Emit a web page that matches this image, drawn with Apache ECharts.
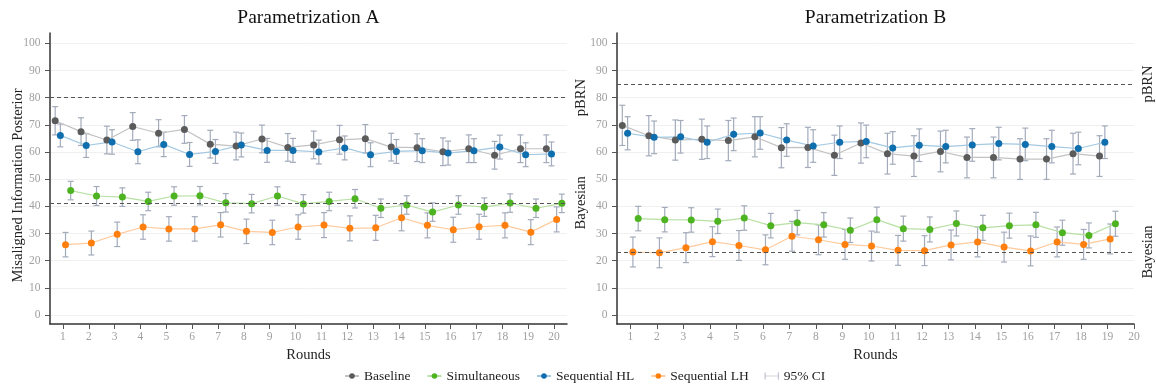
<!DOCTYPE html>
<html><head><meta charset="utf-8">
<script src="https://cdn.jsdelivr.net/npm/echarts@6/dist/echarts.min.js"></script>
<style>html,body{margin:0;padding:0;background:#fff}#c{width:1156px;height:390px}</style>
</head><body><div id="c"></div>
<script>
// ---------- data ----------
const roundsA = [1,2,3,4,5,6,7,8,9,10,11,12,13,14,15,16,17,18,19,20];
const roundsB = [1,2,3,4,5,6,7,8,9,10,11,12,13,14,15,16,17,18,19];
const xTickValues = [1,2,3,4,5,6,7,8,9,10,11,12,13,14,15,16,17,18,19,20];
const yTickValues = [0,10,20,30,40,50,60,70,80,90,100];
const panelTitles = ['Parametrization A', 'Parametrization B'];
const yAxisTitle = 'Misaligned Information Posterior';
const seriesNames = ['Baseline', 'Simultaneous', 'Sequential HL', 'Sequential LH'];
const ciName = '95% CI';

const A_baseline     = [71.5,67.5,64.4,69.4,66.9,68.3,62.9,62.2,64.8,61.7,62.6,64.5,64.9,61.8,61.6,60.1,61.2,58.8,61.2,61.2];
const A_simultaneous = [45.8,43.8,43.4,41.8,43.8,43.9,41.3,41.0,43.8,40.9,41.8,42.8,39.3,40.5,37.9,40.5,39.7,41.2,39.3,41.1];
const A_seqHL        = [66.1,62.4,63.7,60.1,62.8,59.1,60.2,62.6,60.6,60.6,60.0,61.5,59.0,60.2,60.5,59.6,60.5,61.8,59.0,59.3];
const A_seqLH        = [25.9,26.5,29.7,32.4,31.7,31.7,33.2,30.8,30.4,32.4,33.1,31.9,32.1,35.8,33.0,31.4,32.5,33.0,30.5,35.2];

const A_baselineCI     = [5.2,5.1,5.1,5.1,5.0,5.1,5.1,5.1,5.1,5.1,5.1,5.3,5.2,5.1,5.1,5.1,5.1,5.1,5.1,5.1];
const A_simultaneousCI = [3.4,3.5,3.4,3.4,3.4,3.4,3.4,3.4,3.4,3.4,3.4,3.4,3.4,3.4,3.4,3.4,3.4,3.4,3.4,3.4];
const A_seqHLCI        = [4.2,4.4,4.5,4.4,4.5,4.4,4.4,4.4,4.4,4.4,4.4,4.4,4.4,4.4,4.4,4.4,4.4,4.4,4.4,4.4];
const A_seqLHCI        = [4.5,4.4,4.5,4.5,4.5,4.5,4.5,4.5,4.5,4.5,4.6,4.6,4.6,4.8,4.6,4.6,4.6,4.6,4.6,4.6];

const B_baseline     = [69.8,66.0,64.4,64.7,64.2,65.6,61.6,61.7,58.8,63.3,59.4,58.5,60.2,58.0,58.0,57.4,57.4,59.4,58.5];
const B_simultaneous = [35.5,35.1,35.0,34.5,35.7,32.9,34.0,33.2,31.2,35.1,31.8,31.5,33.7,32.1,32.9,33.2,30.3,29.3,33.6];
const B_seqHL        = [66.9,65.4,65.6,63.6,66.5,67.0,64.4,62.2,63.6,63.9,61.5,62.5,62.0,62.6,63.1,62.8,62.0,61.3,63.6];
const B_seqLH        = [23.2,22.9,24.8,27.0,25.6,24.0,29.0,27.7,26.0,25.4,23.8,23.7,25.8,26.9,25.0,23.6,26.9,26.0,28.0];

const B_baselineCI     = [7.4,7.4,7.4,7.4,7.4,7.4,7.4,7.4,7.4,7.4,7.5,7.5,7.5,7.5,7.5,7.5,7.5,7.5,7.5];
const B_simultaneousCI = [4.5,4.5,4.5,4.5,4.5,4.5,4.5,4.5,4.5,4.6,4.6,4.6,4.6,4.6,4.6,4.6,4.6,4.6,4.6];
const B_seqHLCI        = [6.1,6.0,6.0,6.0,6.0,6.0,6.0,6.0,6.0,6.0,6.0,6.0,6.0,6.0,6.0,6.0,6.0,6.0,6.0];
const B_seqLHCI        = [5.5,5.5,5.5,5.5,5.5,5.5,5.5,5.5,5.5,5.5,5.5,5.5,5.5,5.5,5.5,5.5,5.5,5.5,5.5];

const refA = [80, 41.3];
const refB = [85, 23.2];
const refLabels = ['pBRN', 'Bayesian'];

// ---------- styling ----------
const FONT = '"Liberation Serif", "DejaVu Serif", serif';
const pointColors = {'Baseline':'#5b5b5b','Simultaneous':'#4db320','Sequential HL':'#0e6eae','Sequential LH':'#ff7f0e'};
const lineColors  = {'Baseline':'#c2c2c2','Simultaneous':'#b7e0a3','Sequential HL':'#a2c8e2','Sequential LH':'#ffcb9e'};
const dodge = {'Baseline':-0.3,'Sequential HL':-0.1,'Sequential LH':0.1,'Simultaneous':0.3};
const ebColor = '#a3abbb';

const panels = [
  {rounds: roundsA, data: {'Baseline':[A_baseline,A_baselineCI],'Simultaneous':[A_simultaneous,A_simultaneousCI],'Sequential HL':[A_seqHL,A_seqHLCI],'Sequential LH':[A_seqLH,A_seqLHCI]}, ref: refA, xmax: 20.5},
  {rounds: roundsB, data: {'Baseline':[B_baseline,B_baselineCI],'Simultaneous':[B_simultaneous,B_simultaneousCI],'Sequential HL':[B_seqHL,B_seqHLCI],'Sequential LH':[B_seqLH,B_seqLHCI]}, ref: refB, xmax: 20}
];

function ebRender(params, api) {
  const x = api.value(0), lo = api.value(1), hi = api.value(2);
  const p1 = api.coord([x, lo]), p2 = api.coord([x, hi]);
  const w = 3;
  const style = {stroke: ebColor, lineWidth: 1.2, fill: null};
  return {type: 'group', children: [
    {type: 'line', shape: {x1: p1[0], y1: p1[1], x2: p2[0], y2: p2[1]}, style: style},
    {type: 'line', shape: {x1: p1[0]-w, y1: p1[1], x2: p1[0]+w, y2: p1[1]}, style: style},
    {type: 'line', shape: {x1: p2[0]-w, y1: p2[1], x2: p2[0]+w, y2: p2[1]}, style: style}
  ]};
}

const grids = [
  {left: 50, top: 33, width: 517, height: 291},
  {left: 617, top: 33, width: 517, height: 291}
];

const xAxes = panels.map((p, i) => ({
  type: 'value', gridIndex: i, min: 0.5, max: p.xmax,
  name: 'Rounds', nameLocation: 'middle', nameGap: 21,
  nameTextStyle: {fontFamily: FONT, fontSize: 14.5, color: '#222'},
  axisLine: {show: true, onZero: false, lineStyle: {color: '#333', width: 1.5}},
  axisTick: {show: true, length: 5, customValues: xTickValues, lineStyle: {color: '#555'}},
  axisLabel: {customValues: xTickValues, margin: 7, fontFamily: FONT, fontSize: 11.5, color: '#a0a0a0'},
  splitLine: {show: false}
}));

const yAxes = panels.map((p, i) => ({
  type: 'value', gridIndex: i, min: -3.3, max: 103.8,
  axisLine: {show: true, onZero: false, lineStyle: {color: '#333', width: 1.5}},
  axisTick: {show: true, length: 5, customValues: yTickValues, lineStyle: {color: '#555'}},
  axisLabel: {customValues: yTickValues, margin: 9.5, fontFamily: FONT, fontSize: 11.5, color: '#a0a0a0'},
  splitLine: {show: true, lineStyle: {color: '#f0f0f0', width: 1}}
}));

const series = [];
panels.forEach((p, i) => {
  series.push({
    type: 'line', name: 'ref' + i, xAxisIndex: i, yAxisIndex: i, data: [], z: 1, silent: true,
    markLine: {silent: true, symbol: 'none', label: {show: false},
      lineStyle: {color: '#555', type: [4, 3], width: 1},
      data: p.ref.map(v => ({yAxis: v}))}
  });
  seriesNames.forEach(n => {
    const [vals, ci] = p.data[n];
    series.push({
      type: 'custom', name: ciName, xAxisIndex: i, yAxisIndex: i, z: 2,
      renderItem: ebRender, encode: {x: 0, y: [1, 2]},
      itemStyle: {color: ebColor},
      data: p.rounds.map((r, k) => [r + dodge[n], vals[k] - ci[k], vals[k] + ci[k]])
    });
  });
  seriesNames.forEach(n => {
    const [vals] = p.data[n];
    series.push({
      type: 'line', name: n, xAxisIndex: i, yAxisIndex: i, z: 3,
      symbol: 'circle', symbolSize: 7, showSymbol: true,
      itemStyle: {color: pointColors[n]},
      lineStyle: {color: lineColors[n], width: 1.2},
      data: p.rounds.map((r, k) => [r + dodge[n], vals[k]])
    });
  });
});

const option = {
  animation: false,
  backgroundColor: '#fff',
  grid: grids,
  xAxis: xAxes,
  yAxis: yAxes,
  legend: {
    bottom: 2, left: 339, itemWidth: 14, itemHeight: 7, itemGap: 16,
    textStyle: {fontFamily: FONT, fontSize: 13.5, color: '#222'},
    data: [
      {name: 'Baseline'}, {name: 'Simultaneous'}, {name: 'Sequential HL'}, {name: 'Sequential LH'},
      {name: ciName, icon: 'path://M0,0h1.2v10h-1.2z M0,4.5h20v1h-20z M18.8,0h1.2v10h-1.2z', itemStyle: {color: ebColor}}
    ]
  },
  series: series
};

const chart = echarts.init(document.getElementById('c'), null, {renderer: 'canvas'});
chart.setOption(option);

const graphics = [];
panels.forEach((p, i) => {
  const tl = chart.convertToPixel({gridIndex: i}, [0.5, 103.8]);
  const br = chart.convertToPixel({gridIndex: i}, [p.xmax, -3.3]);
  graphics.push({type: 'text', x: (tl[0] + br[0]) / 2, y: 18,
    style: {text: panelTitles[i], textAlign: 'center', textVerticalAlign: 'middle', font: '19.5px ' + FONT, fill: '#111'}});
  if (i === 0) {
    graphics.push({type: 'text', x: 18, y: (tl[1] + br[1]) / 2 + 7, rotation: Math.PI / 2,
      style: {text: yAxisTitle, textAlign: 'center', textVerticalAlign: 'middle', font: '14.5px ' + FONT, fill: '#222'}});
  }
  p.ref.forEach((v, k) => {
    const pt = chart.convertToPixel({gridIndex: i}, [p.xmax, v]);
    graphics.push({type: 'text', x: br[0] + 14, y: pt[1], rotation: Math.PI / 2,
      style: {text: refLabels[k], textAlign: 'center', textVerticalAlign: 'middle', font: '14.5px ' + FONT, fill: '#222'}});
  });
});
chart.setOption({graphic: graphics});
</script>
</body></html>
